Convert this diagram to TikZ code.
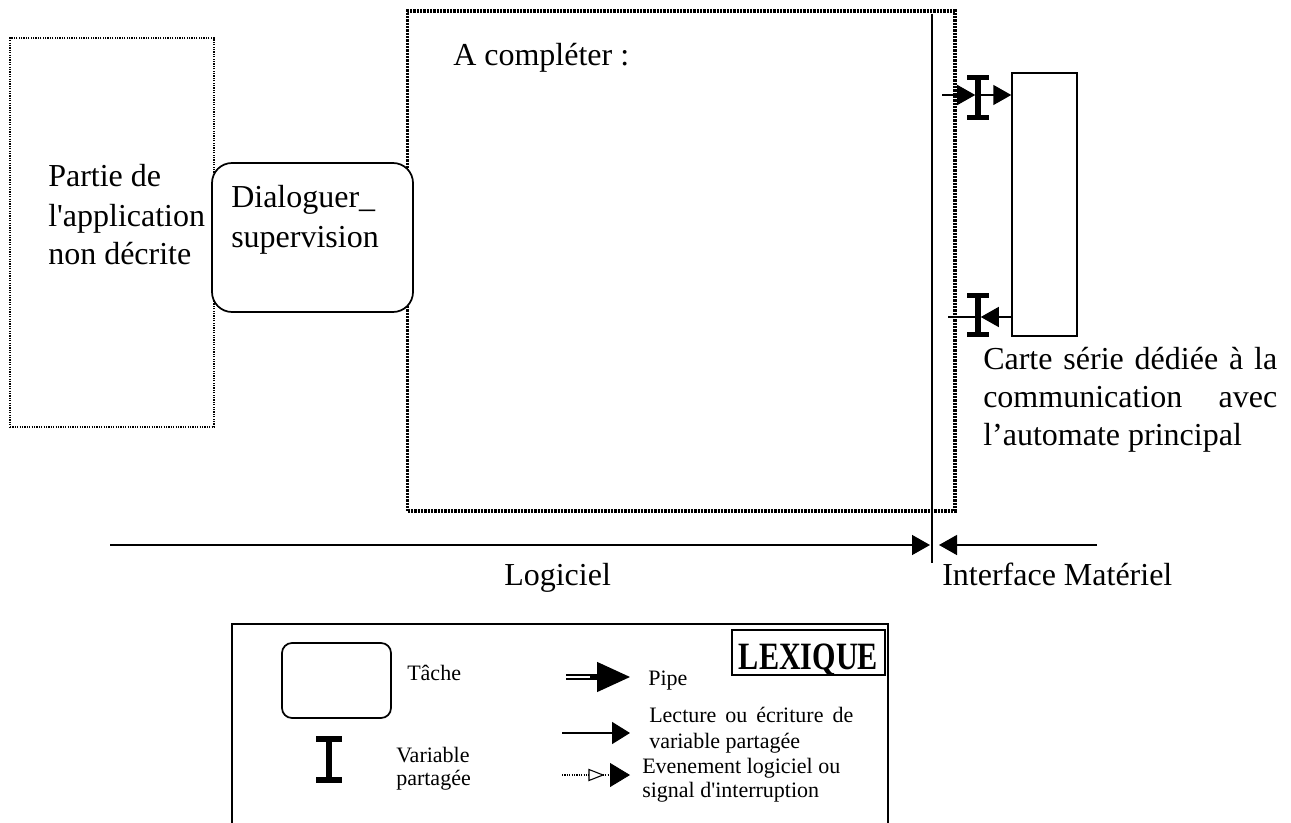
\documentclass[tikz,border=0pt]{standalone}
\usepackage{fontspec}
\usepackage{graphicx}
\setmainfont{Liberation Serif}[Ligatures=TeXOff]
\usetikzlibrary{arrows.meta,calc}
\newcommand\drawibeam[3]{%
  \draw[line width=#3] ([xshift=-#2]#1.north) -- ([xshift=#2]#1.north)
    (#1.north) -- (#1.south)
    ([xshift=-#2]#1.south) -- ([xshift=#2]#1.south);}
\begin{document}
\begin{tikzpicture}[x=0.75pt,y=-0.75pt,
  big/.style={font=\fontsize{24}{28}\selectfont, inner sep=0, anchor=base west},
  small/.style={font=\fontsize{16.5}{19}\selectfont, inner sep=0, anchor=base west},
  thindot/.style={line width=0.9pt, dash pattern=on 0.9pt off 0.9pt},
  thickdot/.style={line width=2.3pt, dash pattern=on 1.8pt off 0.7pt},
  mainline/.style={line width=1.1pt},
  arr/.style={line width=1.1pt, -{Triangle[length=13.5pt,width=15pt]}},
  ibeam/.style={inner sep=0, minimum width=3.75pt},
  box/.style={draw, inner sep=0},
]
\useasboundingbox (0,0) rectangle (1291,823);

% boxes
\node[box, thindot, minimum width=153pt, minimum height=291.75pt] (part) at (112,232.5) {};
\node[box, thickdot, minimum width=410.6pt, minimum height=375pt] (comp) at (681.25,261) {};
\node[box, line width=1.3pt, rounded corners=15pt, minimum width=150.75pt, minimum height=111.75pt, fill=white] (dial) at (312.5,237.5) {};
\node[box, line width=1.1pt, minimum width=48.75pt, minimum height=197.25pt] (card) at (1044.5,204.5) {};

% texts
\node[big] (t1) at (48,187) {Partie de};
\node[big] (t2) at (48,227) {l'application};
\node[big] (t3) at (48,265) {non décrite};
\node[big] (d1) at (231,208) {Dialoguer\_};
\node[big] (d2) at (231,248) {supervision};
\node[big] (ac) at (453,66) {A compléter :};
\node[big] (c1) at (983,369) {\makebox[220.5pt][s]{Carte série dédiée à la}};
\node[big] (c2) at (983,407) {\makebox[220.5pt][s]{communication avec}};
\node[big] (c3) at (983,445) {l’automate principal};
\node[big] (lg) at (504,585) {Logiciel};
\node[big] (im) at (942,585) {Interface Matériel};

% vertical separator and horizontal arrows
\coordinate (vt) at (932,14);
\coordinate (vb) at (932,563);
\draw[mainline] (vt) -- (vb);
\coordinate (hl) at (110,545);
\coordinate (hr) at (1097,545);
\draw[arr] (hl) -- ($(hl -| vb)+(-2,0)$);
\draw[arr] (hr) -- ($(hr -| vb)+(7,0)$);

% shared variables at the card
\node[ibeam, minimum height=29.6pt] (v1) at (978,97.75) {};
\drawibeam{v1}{7.9pt}{3.8pt}
\coordinate (a1) at (942,95);
\draw[arr] (a1) -- (v1.west |- a1);
\draw[arr] (v1.east |- a1) -- (card.west |- a1);

\node[ibeam, minimum height=29.25pt] (v2) at (978,315) {};
\drawibeam{v2}{7.9pt}{3.8pt}
\coordinate (a2) at (948,317);
\draw[arr] (card.west |- a2) -- (v2.east |- a2);
\draw[mainline] (v2.east |- a2) -- (a2);

% lexique
\node[box, line width=1.4pt, minimum width=492pt, minimum height=158.25pt] (lex) at (560,729.5) {};
\node[box, line width=1.1pt, minimum width=114.75pt, minimum height=33.75pt] (lexb) at (808.5,652.5) {};
\node[inner sep=0, anchor=base] (lext) at (808.5,669) {\fontsize{29}{31}\selectfont\bfseries\scalebox{0.78}[1]{LEXIQUE}};

\node[box, line width=1.3pt, rounded corners=7.5pt, minimum width=81.75pt, minimum height=56.25pt] (tache) at (336.5,680.5) {};
\node[small] (tt) at (407,680) {Tâche};

\node[ibeam, minimum width=4.5pt, minimum height=30pt] (v3) at (329,759.5) {};
\drawibeam{v3}{9.4pt}{4.3pt}
\node[small] (vt1) at (396,762) {Variable};
\node[small] (vt2) at (396,785) {partagée};

\coordinate (p0) at (566,677);
\coordinate (p1) at (600,677);
\coordinate (p2) at (590,677);
\coordinate (p3) at (630,677);
\draw[double, line width=1.5pt, double distance=1.6pt] (p0) -- (p1);
\draw[line width=1pt, -{Triangle[length=24.75pt,width=22.5pt]}] (p2) -- (p3);
\node[small] (pt) at (648,685) {Pipe};

\coordinate (l0) at (562,733);
\coordinate (l1) at (630,733);
\draw[line width=1.2pt, -{Triangle[length=13.5pt,width=16.5pt]}] (l0) -- (l1);
\node[small] (lt1) at (649,722) {\makebox[153pt][s]{Lecture ou écriture de}};
\node[small] (lt2) at (649,748) {variable partagée};

\coordinate (e0) at (562,775);
\coordinate (e1) at (612,775);
\coordinate (e2) at (630,775);
\draw[thindot] (e0) -- (e1);
\draw[line width=0.8pt, fill=white] (589,769.5) -- (603,775) -- (589,780.5) -- cycle;
\draw[line width=0.6pt, -{Triangle[length=15pt,width=18pt]}] (e1) -- (e2);
\node[small] (et1) at (642,773) {Evenement logiciel ou};
\node[small] (et2) at (642,797) {signal d'interruption};
\end{tikzpicture}
\end{document}
